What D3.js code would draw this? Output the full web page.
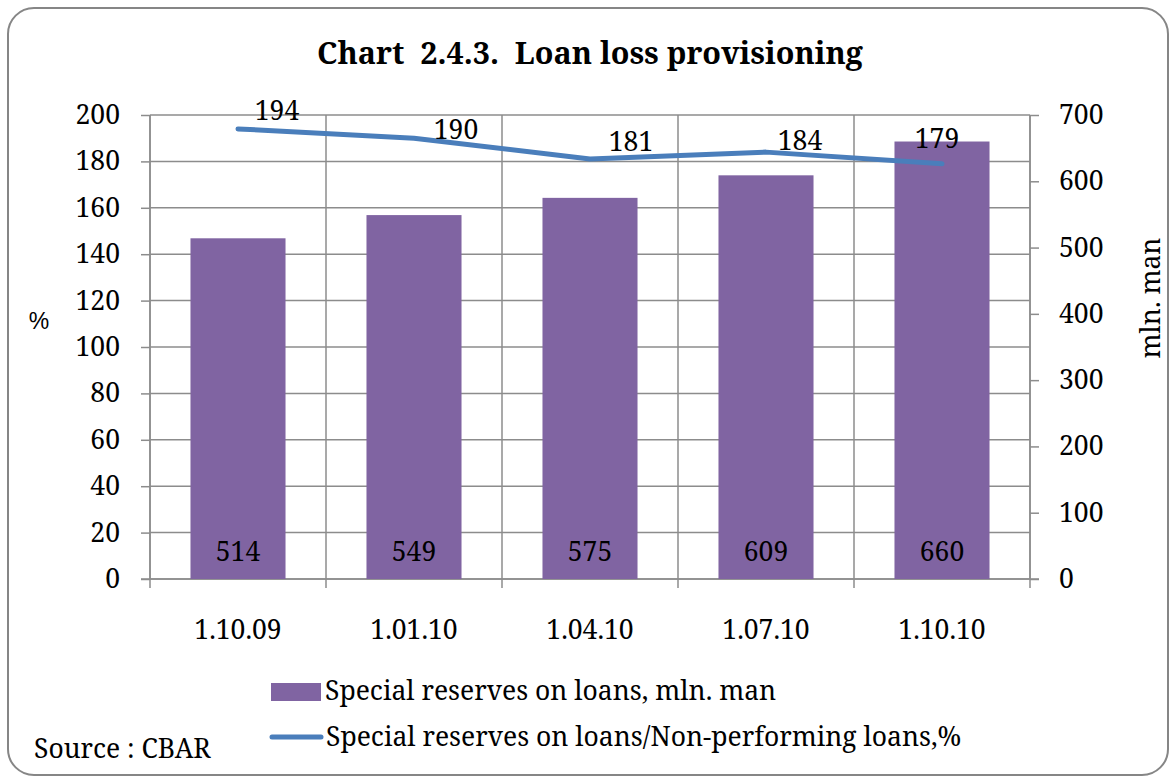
<!DOCTYPE html>
<html>
<head>
<meta charset="utf-8">
<script src="https://cdn.jsdelivr.net/npm/d3@7"></script>
<style>
  html, body { margin: 0; padding: 0; background: #fff; }
  svg { display: block; }
  text { font-family: "Noto Serif", serif; fill: #000; }
</style>
</head>
<body>
<svg id="chart" width="1171" height="783"></svg>
<script>
// Quarterly dates
const categories = ["1.10.09", "1.01.10", "1.04.10", "1.07.10", "1.10.10"];
// Special reserves on loans, mln. man (right axis)
const reserves = [514, 549, 575, 609, 660];
// Special reserves on loans / Non-performing loans, % (left axis)
const coverage = [194, 190, 181, 184, 179];
const leftTicks = [0, 20, 40, 60, 80, 100, 120, 140, 160, 180, 200];
const rightTicks = [0, 100, 200, 300, 400, 500, 600, 700];

const seriesNames = [
  "Special reserves on loans, mln. man",
  "Special reserves on loans/Non-performing loans,%"
];

// label nudges for the ratio line, in px
const lineLabelDx = [39, 42, 41, 34, -5];
const lineLabelDy = [-9, 1, -8, -2, -16];

const svg = d3.select("#chart");
const plot = { left: 150, right: 1030, top: 115, bottom: 579 };

const FONT = "'Noto Serif', serif";
const FS = "26.5px";
const barColor = "#8064a2";
const lineColor = "#4a7ebb";
const gridColor = "#8c8c8c";

// outer frame
svg.append("rect")
  .attr("x", 8).attr("y", 8)
  .attr("width", 1160).attr("height", 767)
  .attr("rx", 26).attr("ry", 26)
  .attr("fill", "#fff")
  .attr("stroke", "#868686").attr("stroke-width", 2);

// title
svg.append("text")
  .attr("x", 590).attr("y", 64)
  .attr("text-anchor", "middle")
  .style("font-size", "30.5px").style("font-weight", "bold")
  .style("white-space", "pre")
  .text("Chart  2.4.3.  Loan loss provisioning");

const x = d3.scaleBand().domain(categories)
  .range([plot.left, plot.right]).paddingInner(0).paddingOuter(0);
const yL = d3.scaleLinear().domain([0, 200]).range([plot.bottom, plot.top]);
const yR = d3.scaleLinear().domain([0, 700]).range([plot.bottom, plot.top]);

const barW = x.bandwidth() * 0.54;

// horizontal gridlines
svg.append("g").selectAll("line").data(leftTicks).join("line")
  .attr("x1", plot.left).attr("x2", plot.right)
  .attr("y1", d => yL(d)).attr("y2", d => yL(d))
  .attr("stroke", gridColor).attr("stroke-width", 1.5);

// vertical gridlines at category boundaries
const bounds = categories.map(c => x(c)).concat([plot.right]);
svg.append("g").selectAll("line").data(bounds).join("line")
  .attr("x1", d => d).attr("x2", d => d)
  .attr("y1", plot.top).attr("y2", plot.bottom + 9)
  .attr("stroke", gridColor).attr("stroke-width", 1.5);

// left axis
const axL = svg.append("g").attr("transform", `translate(${plot.left},0)`)
  .call(d3.axisLeft(yL).tickValues(leftTicks).tickSize(9).tickPadding(21));
// right axis
const axR = svg.append("g").attr("transform", `translate(${plot.right},0)`)
  .call(d3.axisRight(yR).tickValues(rightTicks).tickSize(9).tickPadding(20));
[axL, axR].forEach(a => {
  a.attr("font-family", null).attr("font-size", null);
  a.select(".domain").attr("stroke", gridColor).attr("stroke-width", 1.5)
    .attr("d", `M0,${plot.top}V${plot.bottom}`);
  a.selectAll(".tick line").attr("stroke", gridColor).attr("stroke-width", 1.5);
  a.selectAll(".tick text")
    .style("font-size", FS).style("font-family", FONT)
    .attr("fill", "#000");
});

// bottom axis line
svg.append("line")
  .attr("x1", plot.left - 9).attr("x2", plot.right + 9)
  .attr("y1", plot.bottom).attr("y2", plot.bottom)
  .attr("stroke", gridColor).attr("stroke-width", 1.5);

// bars
svg.append("g").selectAll("rect").data(reserves).join("rect")
  .attr("x", (d, i) => x(categories[i]) + (x.bandwidth() - barW) / 2)
  .attr("width", barW)
  .attr("y", d => yR(d))
  .attr("height", d => yR(0) - yR(d))
  .attr("fill", barColor);

// bar value labels
svg.append("g").selectAll("text").data(reserves).join("text")
  .attr("x", (d, i) => x(categories[i]) + x.bandwidth() / 2)
  .attr("y", plot.bottom - 18)
  .attr("text-anchor", "middle")
  .style("font-size", FS)
  .text(d => d);

// category labels
svg.append("g").selectAll("text").data(categories).join("text")
  .attr("x", d => x(d) + x.bandwidth() / 2)
  .attr("y", 639)
  .attr("text-anchor", "middle")
  .style("font-size", FS)
  .text(d => d);

// ratio line
const line = d3.line()
  .x((d, i) => x(categories[i]) + x.bandwidth() / 2)
  .y(d => yL(d));
svg.append("path").datum(coverage)
  .attr("d", line)
  .attr("fill", "none")
  .attr("stroke", lineColor).attr("stroke-width", 5)
  .attr("stroke-linecap", "round").attr("stroke-linejoin", "round");

// ratio labels
svg.append("g").selectAll("text").data(coverage).join("text")
  .attr("x", (d, i) => x(categories[i]) + x.bandwidth() / 2 + lineLabelDx[i])
  .attr("y", (d, i) => yL(d) + lineLabelDy[i])
  .attr("text-anchor", "middle")
  .style("font-size", FS)
  .text(d => d);

// axis titles
svg.append("text").attr("x", 39).attr("y", 329)
  .attr("text-anchor", "middle").style("font-size", "23px")
  .style("font-family", "'Liberation Sans', Arial, sans-serif")
  .text("%");
svg.append("text")
  .attr("transform", "translate(1160,298) rotate(-90)")
  .attr("text-anchor", "middle").style("font-size", FS)
  .text("mln. man");

// legend
const lg = svg.append("g");
lg.append("rect").attr("x", 271).attr("y", 683).attr("width", 50).attr("height", 18)
  .attr("fill", barColor);
lg.append("text").attr("x", 325).attr("y", 700).style("font-size", FS).text(seriesNames[0]);
lg.append("line").attr("x1", 272).attr("x2", 321).attr("y1", 737).attr("y2", 737)
  .attr("stroke", lineColor).attr("stroke-width", 5).attr("stroke-linecap", "round");
lg.append("text").attr("x", 326).attr("y", 746).style("font-size", FS).text(seriesNames[1]);

// source note
svg.append("text").attr("x", 34).attr("y", 758).style("font-size", FS).text("Source : CBAR");
</script>
</body>
</html>
